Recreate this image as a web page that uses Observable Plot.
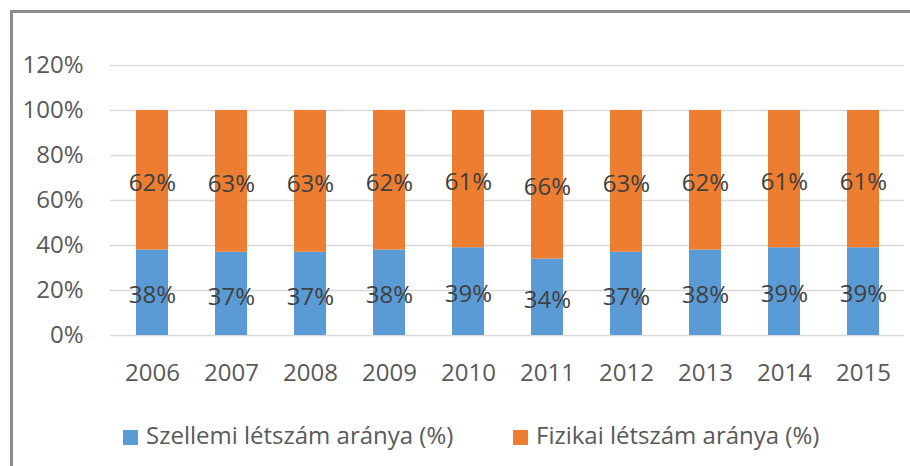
<!DOCTYPE html>
<html>
<head>
<meta charset="utf-8">
<script src="https://cdn.jsdelivr.net/npm/d3@7"></script>
<script src="https://cdn.jsdelivr.net/npm/@observablehq/plot@0.6"></script>
<style>
  html, body { margin: 0; padding: 0; background: #fff; overflow: hidden; }
  body { width: 910px; height: 466px; position: relative; font-family: "Open Sans", sans-serif; }
  #frame { position: absolute; left: 10px; top: 10px; width: 930px; height: 500px; border: 3px solid #8c8c8c; box-sizing: border-box; }
  #chart { position: absolute; left: 0; top: 0; }
  .leg { position: absolute; top: 421px; font-size: 24px; color: #595959; white-space: nowrap; line-height: 28px; }
  .sw { display: inline-block; width: 15px; height: 15px; vertical-align: -1px; margin-right: 8px; }
</style>
</head>
<body>
<div id="frame"></div>
<div id="chart"></div>
<div class="leg" style="left:123px"><span class="sw" style="background:#5B9BD5"></span>Szellemi létszám aránya (%)</div>
<div class="leg" style="left:513px"><span class="sw" style="background:#ED7D31"></span>Fizikai létszám aránya (%)</div>
<script>
const years = ["2006","2007","2008","2009","2010","2011","2012","2013","2014","2015"];
const szellemi = [38, 37, 37, 38, 39, 34, 37, 38, 39, 39];
const fizikai = [62, 63, 63, 62, 61, 66, 63, 62, 61, 61];
const seriesNames = ["Szellemi létszám aránya (%)", "Fizikai létszám aránya (%)"];
const colors = ["#5B9BD5", "#ED7D31"];
const yTicks = [0, 0.2, 0.4, 0.6, 0.8, 1.0, 1.2];

const rows = [];
years.forEach((yr, i) => {
  rows.push({year: yr, series: seriesNames[0], value: szellemi[i] / 100});
  rows.push({year: yr, series: seriesNames[1], value: fizikai[i] / 100});
});

const chart = Plot.plot({
  width: 910,
  height: 400,
  marginLeft: 110,
  marginRight: 6,
  marginTop: 65,
  marginBottom: 65,
  style: {fontFamily: "Open Sans, sans-serif", fontSize: "24px", background: "transparent"},
  x: {domain: years, paddingInner: 0.6, paddingOuter: 0.3, label: null},
  y: {domain: [0, 1.2], label: null},
  color: {domain: seriesNames, range: colors},
  marks: [
    Plot.ruleY(yTicks, {stroke: "#D9D9D9", strokeWidth: 1.5}),
    Plot.barY(rows, {x: "year", y: "value", fill: "series", order: seriesNames}),
    Plot.text(rows, Plot.stackY({x: "year", y: "value", z: "series", order: seriesNames,
      text: d => Math.round(d.value * 100) + "%", fill: "#404040", fontSize: 24, dy: 3})),
    Plot.axisY(yTicks, {tickFormat: d => Math.round(d * 100) + "%", tickSize: 0, tickPadding: 27,
      fontSize: 24, color: "#595959", label: null}),
    Plot.axisX({tickSize: 0, tickPadding: 28, fontSize: 24, color: "#595959", label: null})
  ]
});
document.getElementById("chart").appendChild(chart);
</script>
</body>
</html>
